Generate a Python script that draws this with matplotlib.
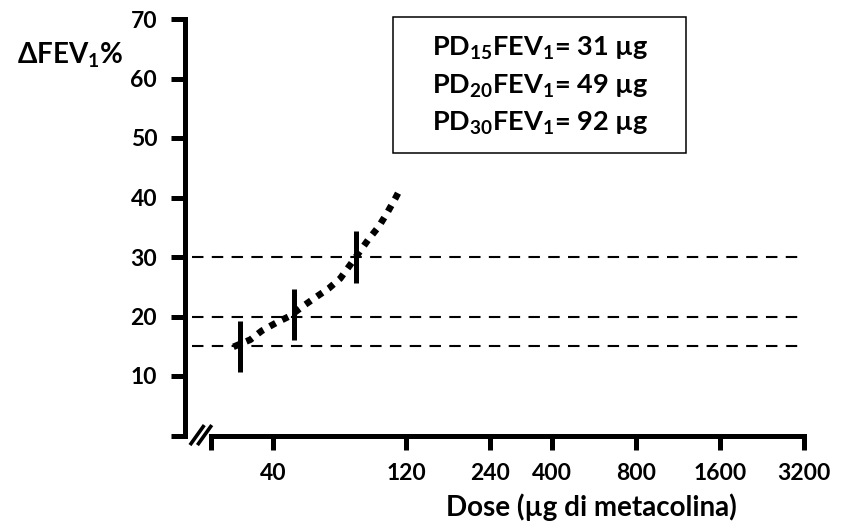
import numpy as np
import matplotlib
matplotlib.use("Agg")
import matplotlib.pyplot as plt
from matplotlib.patches import Rectangle
from matplotlib.ticker import NullLocator

# dati
dose_curva = [28.8, 33.1, 36.4, 41.2, 46.0, 51.4, 57.1, 63.2, 69.6, 75.6,
              81.7, 88.0, 95.6, 102.5, 109.8, 114.4]
fev_curva = [14.9, 16.1, 17.6, 19.0, 20.1, 21.8, 23.3, 24.7, 26.4, 28.7,
             30.9, 33.0, 35.1, 37.4, 39.9, 41.5]

# barre verticali in corrispondenza di PD15, PD20, PD30
dose_pd = [30.4, 47.6, 79.5]
fev_pd_min = [10.7, 16.0, 25.6]
fev_pd_max = [19.2, 24.7, 34.3]

soglie = [15, 20, 30]

x_ticks = [24, 40, 120, 240, 400, 800, 1600, 3200]
x_labels = ["", "40", "120", "240", "400", "800", "1600", "3200"]
y_ticks = [0, 10, 20, 30, 40, 50, 60, 70]
y_labels = ["", "10", "20", "30", "40", "50", "60", "70"]

testo_box = [r"PD$_{15}$FEV$_1$= 31 µg",
             r"PD$_{20}$FEV$_1$= 49 µg",
             r"PD$_{30}$FEV$_1$= 92 µg"]

plt.rcParams["font.family"] = ["Lato", "DejaVu Sans"]
plt.rcParams["font.weight"] = "bold"
plt.rcParams["mathtext.fontset"] = "custom"
plt.rcParams["mathtext.rm"] = "Lato:bold"
plt.rcParams["mathtext.it"] = "Lato:bold"
plt.rcParams["mathtext.bf"] = "Lato:bold"
plt.rcParams["mathtext.default"] = "rm"

W, H = 846, 528
fig = plt.figure(figsize=(W / 100, H / 100), dpi=100)
ax = fig.add_axes([185 / W, (H - 435.5) / H, (807 - 185) / W, (435.5 - 19) / H])

ax.set_xscale("log", base=2)
ax.set_xlim(19.3, 3290)
ax.set_ylim(0, 70)

# linee tratteggiate orizzontali
for s in soglie:
    ax.axhline(s, xmin=0.011, xmax=0.994, color="black", lw=1.5,
               ls=(0, (5.5, 4)))

# curva punteggiata
ax.plot(dose_curva, fev_curva, color="black", lw=4.8, ls=(0, (1, 1.1)),
        dash_capstyle="butt")

# barre
ax.vlines(dose_pd, fev_pd_min, fev_pd_max, color="black", lw=3.6)

# assi
for side in ["top", "right"]:
    ax.spines[side].set_visible(False)
ax.spines["left"].set_linewidth(3.6)
ax.spines["bottom"].set_linewidth(3.6)
ax.spines["left"].set_bounds(0, 70)
ax.spines["bottom"].set_bounds(24, 3200)

ax.set_xticks(x_ticks)
ax.set_xticklabels(x_labels)
ax.xaxis.set_minor_locator(NullLocator())
ax.set_yticks(y_ticks)
ax.set_yticklabels(y_labels)
ax.tick_params(axis="both", direction="out", length=10, width=3.6,
               labelsize=16.5, color="black")
ax.tick_params(axis="x", pad=10)
ax.tick_params(axis="y", pad=10)

# segno di interruzione dell'asse
for dx in [0.0, 0.012]:
    ax.plot([0.008 + dx, 0.031 + dx], [-0.023, 0.025], transform=ax.transAxes,
            color="black", lw=2.6, clip_on=False, solid_capstyle="butt")

# etichette assi
fig.text(70 / W, 1 - 64 / H, r"ΔFEV$_1$%", ha="center", va="baseline",
         fontsize=20, fontweight="bold")
fig.text(591 / W, 1 - 516 / H, "Dose (µg di metacolina)", ha="center",
         va="baseline", fontsize=20, fontweight="bold")

# riquadro con i valori PD
fig.add_artist(Rectangle((393 / W, 1 - 153 / H), 293 / W, 136 / H,
                         transform=fig.transFigure, facecolor="white",
                         edgecolor="black", lw=1.1))
for i, t in enumerate(testo_box):
    fig.text(540 / W, 1 - (56 + 37.5 * i) / H, t, ha="center", va="baseline",
             fontsize=19.5, fontweight="bold")

fig.savefig("out.png", dpi=100)
